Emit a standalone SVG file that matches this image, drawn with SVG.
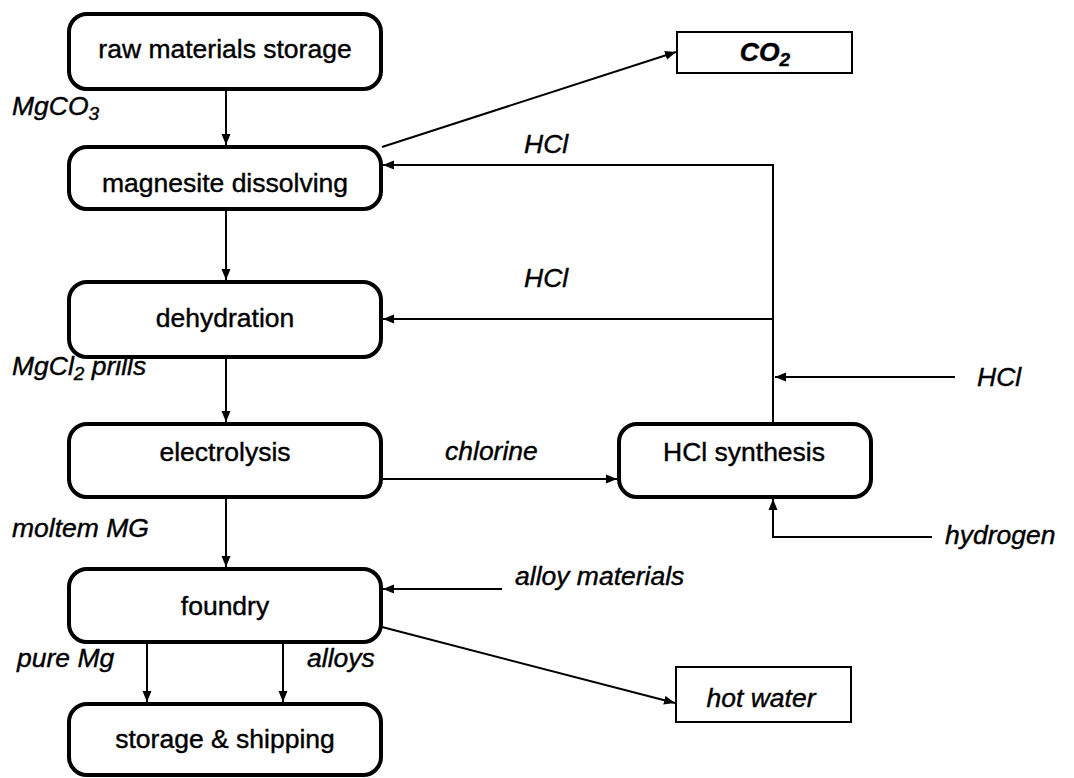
<svg xmlns="http://www.w3.org/2000/svg" width="1074" height="778" viewBox="0 0 1074 778">
  <style>
    .proc { fill: #fff; stroke: #000; stroke-width: 4; }
    .out { fill: #fff; stroke: #000; stroke-width: 2; }
    .t { font-family: "Liberation Sans", Arial, sans-serif; font-size: 26.5px; fill: #000; stroke: #000; stroke-width: 0.4; }
    .lbl { font-family: "Liberation Sans", Arial, sans-serif; font-size: 26.5px; font-style: italic; fill: #000; stroke: #000; stroke-width: 0.4; }
    .c { text-anchor: middle; }
    .ln { fill: none; stroke: #000; stroke-width: 2; }
  </style>
  <defs>
    <marker id="arr" markerUnits="userSpaceOnUse" markerWidth="12" markerHeight="10" refX="11" refY="5" orient="auto">
      <path d="M0,0.5 L11,5 L0,9.5 Z" fill="#000"/>
    </marker>
  </defs>
  <rect width="1074" height="778" fill="#fff"/>

  <!-- process steps -->
  <g id="raw-storage">
    <rect class="proc" x="69" y="14" width="312" height="75" rx="18"/>
    <text class="t c" x="225" y="58">raw materials storage</text>
  </g>
  <g id="magnesite-dissolving">
    <rect class="proc" x="69" y="147" width="312" height="62" rx="18"/>
    <text class="t c" x="225" y="192">magnesite dissolving</text>
  </g>
  <g id="dehydration">
    <rect class="proc" x="69" y="282" width="312" height="75" rx="18"/>
    <text class="t c" x="225" y="327">dehydration</text>
  </g>
  <g id="electrolysis">
    <rect class="proc" x="69" y="424" width="312" height="73" rx="18"/>
    <text class="t c" x="225" y="461">electrolysis</text>
  </g>
  <g id="foundry">
    <rect class="proc" x="69" y="569" width="312" height="73" rx="18"/>
    <text class="t c" x="225" y="615">foundry</text>
  </g>
  <g id="storage-shipping">
    <rect class="proc" x="69" y="704" width="312" height="71" rx="18"/>
    <text class="t c" x="225" y="748">storage &amp; shipping</text>
  </g>
  <g id="hcl-synthesis">
    <rect class="proc" x="619" y="424" width="252" height="73" rx="18"/>
    <text class="t c" x="744" y="461">HCl synthesis</text>
  </g>

  <!-- outputs -->
  <g id="co2">
    <rect class="out" x="677" y="32" width="175" height="41"/>
    <text class="lbl c" x="765" y="61" font-weight="bold">CO<tspan font-size="19" dy="5">2</tspan></text>
  </g>
  <g id="hot-water">
    <rect class="out" x="676" y="667" width="175" height="55"/>
    <text class="lbl c" x="761" y="707">hot water</text>
  </g>

  <!-- flows -->
  <g id="connectors">
    <line class="ln" x1="226" y1="90" x2="226" y2="145" marker-end="url(#arr)"/>
    <line class="ln" x1="226" y1="210" x2="226" y2="280" marker-end="url(#arr)"/>
    <line class="ln" x1="226" y1="358" x2="226" y2="422" marker-end="url(#arr)"/>
    <line class="ln" x1="226" y1="498" x2="226" y2="567" marker-end="url(#arr)"/>
    <line class="ln" x1="147" y1="643" x2="147" y2="702" marker-end="url(#arr)"/>
    <line class="ln" x1="283" y1="643" x2="283" y2="702" marker-end="url(#arr)"/>
    <line class="ln" x1="382" y1="147" x2="676" y2="52" marker-end="url(#arr)"/>
    <polyline class="ln" points="773,422 773,165 383,165" marker-end="url(#arr)"/>
    <line class="ln" x1="773" y1="319" x2="383" y2="319" marker-end="url(#arr)"/>
    <line class="ln" x1="955" y1="377" x2="775" y2="377" marker-end="url(#arr)"/>
    <line class="ln" x1="383" y1="479" x2="617" y2="479" marker-end="url(#arr)"/>
    <polyline class="ln" points="932,537 773,537 773,499" marker-end="url(#arr)"/>
    <line class="ln" x1="502" y1="589" x2="383" y2="589" marker-end="url(#arr)"/>
    <line class="ln" x1="382" y1="627" x2="675" y2="703" marker-end="url(#arr)"/>
  </g>

  <!-- flow labels -->
  <g id="labels">
    <text class="lbl" x="12" y="115">MgCO<tspan font-size="19" dy="5">3</tspan></text>
    <text class="lbl" x="524" y="153">HCl</text>
    <text class="lbl" x="524" y="287">HCl</text>
    <text class="lbl" x="12" y="375">MgCl<tspan font-size="19" dy="5">2</tspan><tspan dy="-5"> prills</tspan></text>
    <text class="lbl" x="977" y="386">HCl</text>
    <text class="lbl" x="445" y="460">chlorine</text>
    <text class="lbl" x="12" y="537">moltem MG</text>
    <text class="lbl" x="945" y="544">hydrogen</text>
    <text class="lbl" x="515" y="585">alloy materials</text>
    <text class="lbl" x="17" y="667">pure Mg</text>
    <text class="lbl" x="307" y="667">alloys</text>
  </g>
</svg>
